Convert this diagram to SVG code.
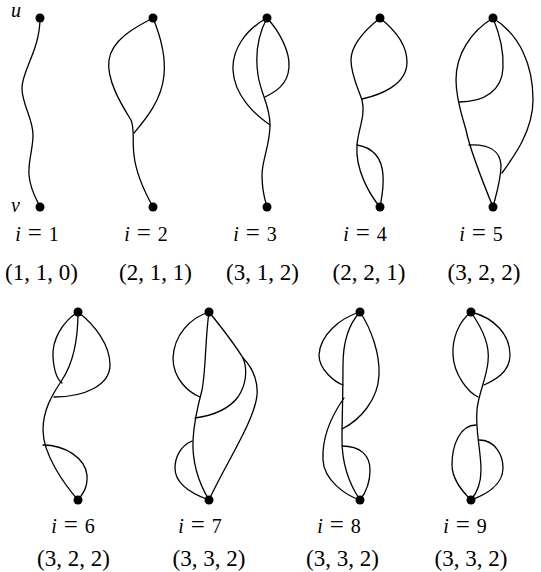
<svg xmlns="http://www.w3.org/2000/svg" width="541" height="572" viewBox="0 0 541 572">
<style>
.e{fill:none;stroke:#000;stroke-width:1.3;stroke-linecap:round}
.d{fill:#000}
.lab{font-family:"Liberation Serif","DejaVu Serif",serif;font-size:20px;text-anchor:middle;fill:#000}
.eq{font-size:25px}
.tup{font-family:"Liberation Serif","DejaVu Serif",serif;font-size:23px;text-anchor:middle;fill:#000}
.it{font-style:italic}
.uv{font-family:"Liberation Serif","DejaVu Serif",serif;font-size:20px;font-style:italic;fill:#000}
</style>
<rect width="541" height="572" fill="#fff"/>
<g id="connectors">
<path class="e" d="M40,18 C40,50 22,70 22,88 C22,105 33,118 33,135 C33,150 28,160 29,175 C30,190 38,202 40,207"/>
<path class="e" d="M153,18 C140,25 112,38 109,60 C106,82 125,110 131,120 C135,130 132,140 134,155 C136,175 148,198 153,207"/>
<path class="e" d="M153,18 C160,35 166,55 164,75 C162,100 145,120 134,133"/>
<path class="e" d="M267,18 C258,35 255,55 258,75 C261,95 270,105 270,125 C270,145 262,160 262,175 C262,192 265,200 267,207"/>
<path class="e" d="M267,18 C245,30 232,50 233,70 C234,95 255,115 270,125"/>
<path class="e" d="M267,18 C280,32 290,52 289,67 C288,85 275,92 265,97"/>
<path class="e" d="M380,18 C365,30 351,45 351,60 C351,75 358,88 362,100 C366,115 358,130 357,145 C355,170 370,195 380,207"/>
<path class="e" d="M380,18 C395,30 407,45 407,62 C407,85 380,95 362,99"/>
<path class="e" d="M357,145 C375,148 382,160 383,175 C384,190 381,200 380,207"/>
<path class="e" d="M493,18 C470,32 456,55 456,80 C456,100 462,115 466,130 C470,150 484,185 493,207"/>
<path class="e" d="M493,18 C500,35 504,50 503,68 C502,90 485,102 459,102"/>
<path class="e" d="M493,18 C520,35 533,65 533,100 C533,130 515,155 502,173"/>
<path class="e" d="M469,145 C492,144 500,152 501,165 C501,180 496,195 493,207"/>
<path class="e" d="M78,312 C78,345 72,365 62,380 C52,395 43,410 43,430 C43,455 65,485 78,500"/>
<path class="e" d="M78,312 C62,322 52,340 53,357 C54,372 58,380 62,383"/>
<path class="e" d="M78,312 C95,325 110,345 110,365 C110,385 85,397 54,397"/>
<path class="e" d="M43,445 C65,445 85,458 87,475 C88,488 82,495 78,500"/>
<path class="e" d="M209,312 C222,328 235,345 243,358"/>
<path class="e" d="M243,358 C248,370 246,385 238,397 C228,410 210,416 195,418"/>
<path class="e" d="M243,358 C255,370 258,385 257,395 C255,420 225,465 209,500"/>
<path class="e" d="M209,312 C190,318 174,335 173,358 C173,380 190,393 200,397"/>
<path class="e" d="M209,312 C205,340 206,370 202,390 C198,405 194,420 193,440 C192,465 200,485 209,500"/>
<path class="e" d="M192,441 C180,446 175,458 175,468 C175,485 195,495 209,500"/>
<path class="e" d="M360,312 C348,325 343,345 343,365 C343,395 342,420 342,440 C342,465 350,485 360,500"/>
<path class="e" d="M360,312 C340,318 320,335 319,355 C319,370 335,382 343,385"/>
<path class="e" d="M360,312 C372,330 380,355 379,375 C378,400 360,420 342,429"/>
<path class="e" d="M344,398 C330,418 322,440 323,460 C324,480 345,495 360,500"/>
<path class="e" d="M342,446 C360,446 370,455 370,470 C370,485 364,495 360,500"/>
<path class="e" d="M471,312 C483,330 490,345 488,362 C486,380 478,395 477,410 C475,430 481,450 481,470 C481,485 476,494 471,500"/>
<path class="e" d="M471,312 C458,322 452,340 453,355 C454,375 468,392 478,397"/>
<path class="e" d="M471,312 C495,318 510,335 510,355 C510,372 495,380 484,385"/>
<path class="e" d="M476,425 C460,425 452,445 452,465 C452,480 463,492 471,500"/>
<path class="e" d="M479,440 C495,440 503,455 503,468 C503,485 485,495 471,500"/>
</g>
<g id="node-u1"><circle class="d" cx="40" cy="18" r="4.5"/><text class="uv" x="11" y="17">u</text></g>
<g id="node-v1"><circle class="d" cx="40" cy="207" r="4.5"/><text class="uv" x="11" y="212">v</text></g>
<g id="node-u2"><circle class="d" cx="153" cy="18" r="4.5"/></g>
<g id="node-v2"><circle class="d" cx="153" cy="207" r="4.5"/></g>
<g id="node-u3"><circle class="d" cx="267" cy="18" r="4.5"/></g>
<g id="node-v3"><circle class="d" cx="267" cy="207" r="4.5"/></g>
<g id="node-u4"><circle class="d" cx="380" cy="18" r="4.5"/></g>
<g id="node-v4"><circle class="d" cx="380" cy="207" r="4.5"/></g>
<g id="node-u5"><circle class="d" cx="493" cy="18" r="4.5"/></g>
<g id="node-v5"><circle class="d" cx="493" cy="207" r="4.5"/></g>
<g id="node-u6"><circle class="d" cx="78" cy="312" r="4.5"/></g>
<g id="node-v6"><circle class="d" cx="78" cy="500" r="4.5"/></g>
<g id="node-u7"><circle class="d" cx="209" cy="312" r="4.5"/></g>
<g id="node-v7"><circle class="d" cx="209" cy="500" r="4.5"/></g>
<g id="node-u8"><circle class="d" cx="360" cy="312" r="4.5"/></g>
<g id="node-v8"><circle class="d" cx="360" cy="500" r="4.5"/></g>
<g id="node-u9"><circle class="d" cx="471" cy="312" r="4.5"/></g>
<g id="node-v9"><circle class="d" cx="471" cy="500" r="4.5"/></g>
<g id="labels">
<text class="lab" x="37" y="241"><tspan class="it">i</tspan><tspan class="eq" dx="7">=</tspan><tspan dx="7">1</tspan></text>
<text class="lab" x="146" y="241"><tspan class="it">i</tspan><tspan class="eq" dx="7">=</tspan><tspan dx="7">2</tspan></text>
<text class="lab" x="255" y="241"><tspan class="it">i</tspan><tspan class="eq" dx="7">=</tspan><tspan dx="7">3</tspan></text>
<text class="lab" x="365" y="241"><tspan class="it">i</tspan><tspan class="eq" dx="7">=</tspan><tspan dx="7">4</tspan></text>
<text class="lab" x="481" y="241"><tspan class="it">i</tspan><tspan class="eq" dx="7">=</tspan><tspan dx="7">5</tspan></text>
<text class="tup" x="41.5" y="280">(1, 1, 0)</text>
<text class="tup" x="155.5" y="280">(2, 1, 1)</text>
<text class="tup" x="262.5" y="280">(3, 1, 2)</text>
<text class="tup" x="369" y="280">(2, 2, 1)</text>
<text class="tup" x="484" y="280">(3, 2, 2)</text>
<text class="lab" x="73" y="533"><tspan class="it">i</tspan><tspan class="eq" dx="7">=</tspan><tspan dx="7">6</tspan></text>
<text class="lab" x="200" y="533"><tspan class="it">i</tspan><tspan class="eq" dx="7">=</tspan><tspan dx="7">7</tspan></text>
<text class="lab" x="339" y="533"><tspan class="it">i</tspan><tspan class="eq" dx="7">=</tspan><tspan dx="7">8</tspan></text>
<text class="lab" x="465" y="533"><tspan class="it">i</tspan><tspan class="eq" dx="7">=</tspan><tspan dx="7">9</tspan></text>
<text class="tup" x="73.5" y="566">(3, 2, 2)</text>
<text class="tup" x="209" y="566">(3, 3, 2)</text>
<text class="tup" x="342.5" y="566">(3, 3, 2)</text>
<text class="tup" x="471" y="566">(3, 3, 2)</text>
</g>
</svg>
